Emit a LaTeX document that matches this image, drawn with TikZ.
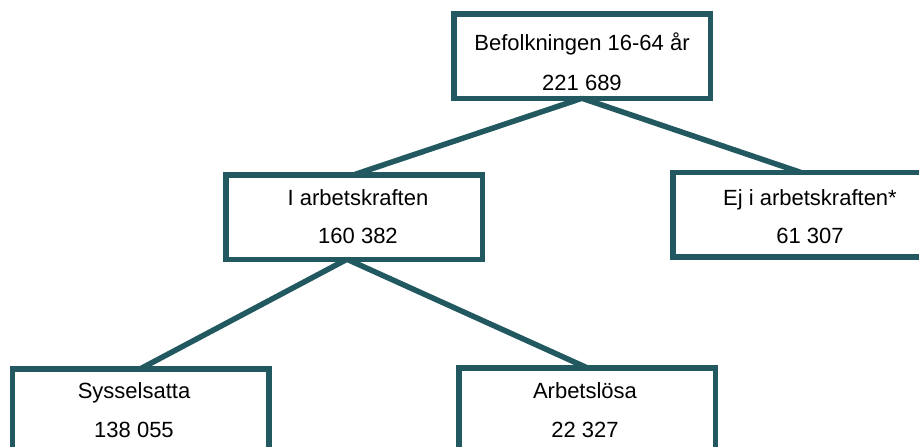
\documentclass[tikz,border=0pt]{standalone}
\usepackage{fontspec}
\setmainfont{Liberation Sans}
\definecolor{teal}{RGB}{34,88,96}
\tikzset{
  box/.style={draw=teal, line width=5.5pt, fill=white, inner sep=0pt, outer sep=0pt,
              minimum width=256.5pt, minimum height=84.5pt},
  conn/.style={draw=teal, line width=5.5pt},
  lbl/.style={anchor=base, inner sep=0pt, font=\fontsize{22}{26}\selectfont, text=black}
}
\begin{document}
\begin{tikzpicture}[x=1pt, y=-1pt]
\useasboundingbox (0,0) rectangle (919,447);
\fill[white] (0,0) rectangle (919,447);
\clip (0,0) rectangle (919,447);
% boxes
\node[box] (top) at (582,56) {};
\node[box] (ml) at (354,217) {};
\node[box] (rt) at (801,214.75) {};
\node[box] (bl) at (140.5,411) {};
\node[box] (br) at (587,410) {};
% connectors
\draw[conn] (top.south) -- (ml.north);
\draw[conn] (top.south) -- (rt.north);
\draw[conn] ([xshift=-7pt]ml.south) -- (bl.north);
\draw[conn] ([xshift=-7pt]ml.south) -- (br.north);
% texts
\node[lbl] (top1) at (582,50) {Befolkningen 16-64 år};
\node[lbl] (top2) at (582,90) {221 689};
\node[lbl] (ml1) at (358,205) {I arbetskraften};
\node[lbl] (ml2) at (358,243.3) {160 382};
\node[lbl] (rt1) at (810,205) {Ej i arbetskraften*};
\node[lbl] (rt2) at (810,243) {61 307};
\node[lbl] (bl1) at (134,398) {Sysselsatta};
\node[lbl] (bl2) at (134,437) {138 055};
\node[lbl] (br1) at (585,398.3) {Arbetslösa};
\node[lbl] (br2) at (585,437.3) {22 327};
\end{tikzpicture}
\end{document}
